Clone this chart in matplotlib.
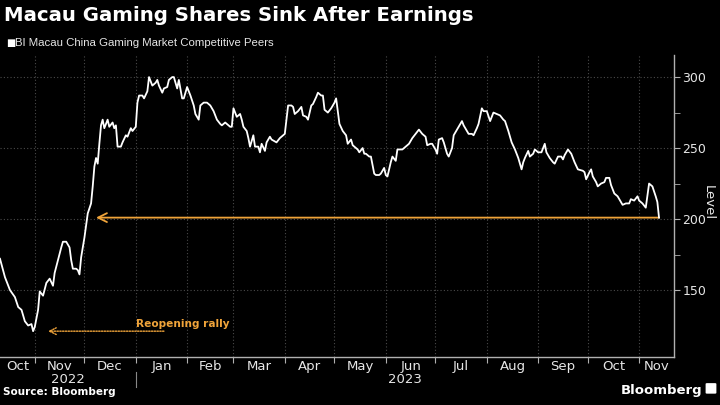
import numpy as np
import pandas as pd
import matplotlib
matplotlib.use("Agg")
import matplotlib.pyplot as plt
import matplotlib.patches as mpatches
from matplotlib.transforms import blended_transform_factory

# data (days after start_date, index level)
start_date = pd.Timestamp("2022-10-11")
day_offsets = [
    0, 3, 6, 9, 11, 13, 15, 17, 19, 20, 21, 23, 24, 26, 28, 30, 32, 33, 35, 37,
    38, 40, 42, 43, 44, 46, 47, 48, 49, 51, 53, 55, 56, 57, 58, 59, 60, 61, 62, 63,
    65, 66, 68, 69, 70, 71, 73, 74, 76, 77, 79, 80, 82, 83, 84, 86, 87, 89, 90, 92,
    94, 95, 96, 98, 99, 101, 102, 104, 105, 107, 108, 110, 111, 113, 115, 117, 118, 120, 121, 123,
    125, 127, 129, 131, 133, 134, 136, 137, 139, 140, 141, 143, 145, 146, 147, 149, 150, 151, 153, 154,
    156, 157, 158, 160, 161, 163, 164, 167, 169, 172, 174, 176, 177, 178, 180, 182, 183, 185, 186, 188,
    189, 191, 192, 194, 195, 196, 198, 200, 202, 203, 205, 207, 209, 210, 212, 213, 216, 217, 219, 220,
    221, 223, 224, 226, 227, 229, 230, 232, 233, 234, 236, 237, 239, 240, 243, 245, 247, 249, 251, 253,
    255, 257, 258, 260, 261, 263, 264, 265, 267, 268, 270, 271, 273, 274, 276, 278, 279, 280, 282, 283,
    285, 286, 288, 289, 291, 292, 294, 296, 298, 300, 302, 304, 305, 307, 309, 311, 313, 315, 316, 317,
    319, 320, 322, 323, 325, 327, 329, 330, 332, 334, 335, 337, 339, 340, 341, 343, 345, 347, 349, 352,
    353, 354, 356, 357, 358, 360, 361, 363, 365, 366, 368, 369, 371, 373, 375, 376, 378, 380, 381, 383,
    385, 386, 388, 390, 392, 394, 396, 397, 398,
]
levels = [
    172, 159, 150, 145, 138, 136, 128, 125, 126, 121, 124, 136, 149, 146, 155, 158, 153, 162, 171, 180,
    184, 184, 180, 171, 165, 165, 164, 161, 173, 187, 204, 211, 223, 237, 243, 239, 253, 266, 270, 264,
    270, 265, 268, 264, 266, 251, 251, 254, 259, 258, 264, 262, 265, 282, 287, 287, 285, 290, 300, 294,
    296, 298, 294, 289, 292, 293, 298, 300, 300, 292, 298, 285, 285, 293, 287, 280, 274, 270, 280, 282,
    282, 280, 276, 270, 267, 266, 268, 267, 265, 265, 278, 272, 274, 270, 265, 262, 257, 251, 259, 251,
    251, 247, 253, 248, 254, 258, 256, 254, 257, 260, 280, 280, 279, 274, 276, 279, 273, 272, 270, 280,
    281, 286, 289, 287, 287, 277, 275, 278, 282, 285, 267, 262, 259, 253, 256, 252, 249, 247, 250, 246,
    246, 244, 244, 232, 231, 231, 232, 236, 231, 230, 240, 244, 241, 249, 249, 251, 253, 257, 260, 263,
    260, 258, 252, 253, 253, 249, 246, 256, 257, 254, 246, 244, 250, 259, 263, 267, 269, 266, 262, 260,
    260, 259, 264, 267, 278, 276, 276, 269, 275, 274, 273, 270, 269, 262, 254, 249, 243, 235, 240, 243,
    248, 244, 246, 249, 247, 247, 253, 247, 243, 240, 239, 244, 244, 242, 245, 249, 246, 240, 235, 234,
    233, 228, 233, 235, 230, 226, 223, 225, 226, 229, 229, 224, 218, 216, 212, 210, 211, 211, 214, 213,
    216, 213, 211, 208, 225, 223, 216, 212, 201,
]
month_labels = ["Oct", "Nov", "Dec", "Jan", "Feb", "Mar", "Apr", "May", "Jun", "Jul", "Aug", "Sep", "Oct", "Nov"]
year_labels = ["2022", "2023"]
y_ticks = [150, 200, 250, 300]

title = "Macau Gaming Shares Sink After Earnings"
series_name = "BI Macau China Gaming Market Competitive Peers"
annotation = "Reopening rally"

dates = start_date + pd.to_timedelta(day_offsets, unit="D")

orange = "#f0a43a"
grid_col = "#4a4a4a"
axis_col = "#b0b0b0"
text_col = "#e6e6e6"

fig = plt.figure(figsize=(7.2, 4.05), dpi=100, facecolor="black")
ax = fig.add_axes([0.0, 0.1185, 0.936, 0.7455], facecolor="black")

ax.plot(dates, levels, color="white", lw=1.3, zorder=3)

x_end = pd.Timestamp("2023-11-22")
ax.set_xlim(start_date, x_end)
ax.set_ylim(102.8, 315.5)

# month boundaries as ticks/grid, labels centred in the visible part of each month
month_starts = pd.date_range("2022-11-01", "2023-11-01", freq="MS")
ax.set_xticks(month_starts)
ax.set_xticklabels([])
edges = [start_date] + list(month_starts) + [x_end]
mid_months = [a + (b - a) / 2 for a, b in zip(edges[:-1], edges[1:])]
ax.set_xticks(mid_months, minor=True)
ax.set_xticklabels(month_labels, minor=True)
ax.tick_params(axis="x", which="major", length=4, color=axis_col, direction="out")
ax.tick_params(axis="x", which="minor", length=0, labelsize=9.5, labelcolor=text_col, pad=2)

ax.yaxis.tick_right()
ax.set_yticks(y_ticks)
ax.set_yticks([175, 225, 275], minor=True)
ax.tick_params(axis="y", which="both", length=4, color=axis_col, labelsize=9,
               labelcolor=text_col, pad=2)
ax.text(1.051, 0.51, "Level", transform=ax.transAxes, color=text_col, fontsize=9.5,
        rotation=270, ha="center", va="center")

ax.grid(True, which="major", color=grid_col, ls=(0, (1, 2)), lw=0.8)
for s in ["top", "left"]:
    ax.spines[s].set_visible(False)
for s in ["right", "bottom"]:
    ax.spines[s].set_color(axis_col)
    ax.spines[s].set_linewidth(1.0)

# year labels under the months
jan = pd.Timestamp("2023-01-01")
trans = blended_transform_factory(ax.transData, ax.transAxes)
ax.text(start_date + (jan - start_date) / 2, -0.075, year_labels[0],
        transform=trans, ha="center", va="center", color=text_col, fontsize=9.5)
ax.text(jan + (x_end - jan) / 2, -0.075, year_labels[1],
        transform=trans, ha="center", va="center", color=text_col, fontsize=9.5)
ax.plot([jan, jan], [-0.05, -0.1], transform=trans, color="#888888", lw=0.8, clip_on=False)

# orange arrow back to the pre-rally level
ax.annotate("", xy=(start_date + pd.Timedelta(days=58), levels[-1]),
            xytext=(dates[-1], levels[-1]),
            arrowprops=dict(arrowstyle="->", color=orange, lw=1.3, mutation_scale=16,
                            shrinkA=0, shrinkB=0), zorder=2)

# dotted arrow for reopening rally
ax.annotate("", xy=(start_date + pd.Timedelta(days=29), 121),
            xytext=(start_date + pd.Timedelta(days=99), 121),
            arrowprops=dict(arrowstyle="->", color=orange, lw=1.0, ls=(0, (1, 1)),
                            mutation_scale=12, shrinkA=0, shrinkB=0))
ax.text(start_date + pd.Timedelta(days=82), 126, annotation, color=orange, fontsize=7.6,
        fontweight="bold", ha="left", va="center")

# titles and footer
fig.text(0.006, 0.962, title, color="white", fontsize=14.2, fontweight="bold", ha="left", va="center")
fig.text(0.008, 0.893, "\u25a0", color="white", fontsize=7, ha="left", va="center")
fig.text(0.021, 0.893, series_name, color=text_col, fontsize=8.2, family="Liberation Sans",
         ha="left", va="center")
fig.text(0.004, 0.02, "Source: Bloomberg", color="white", fontsize=7.5, fontweight="bold",
         ha="left", va="bottom")
fig.text(0.975, 0.02, "Bloomberg", color="white", fontsize=9.5, fontweight="bold",
         ha="right", va="bottom")
fig.patches.append(mpatches.FancyBboxPatch((0.982, 0.03), 0.011, 0.022,
                                           boxstyle="round,pad=0.002", transform=fig.transFigure,
                                           facecolor="white", edgecolor="none"))

fig.savefig("out.png", dpi=100, facecolor="black")
